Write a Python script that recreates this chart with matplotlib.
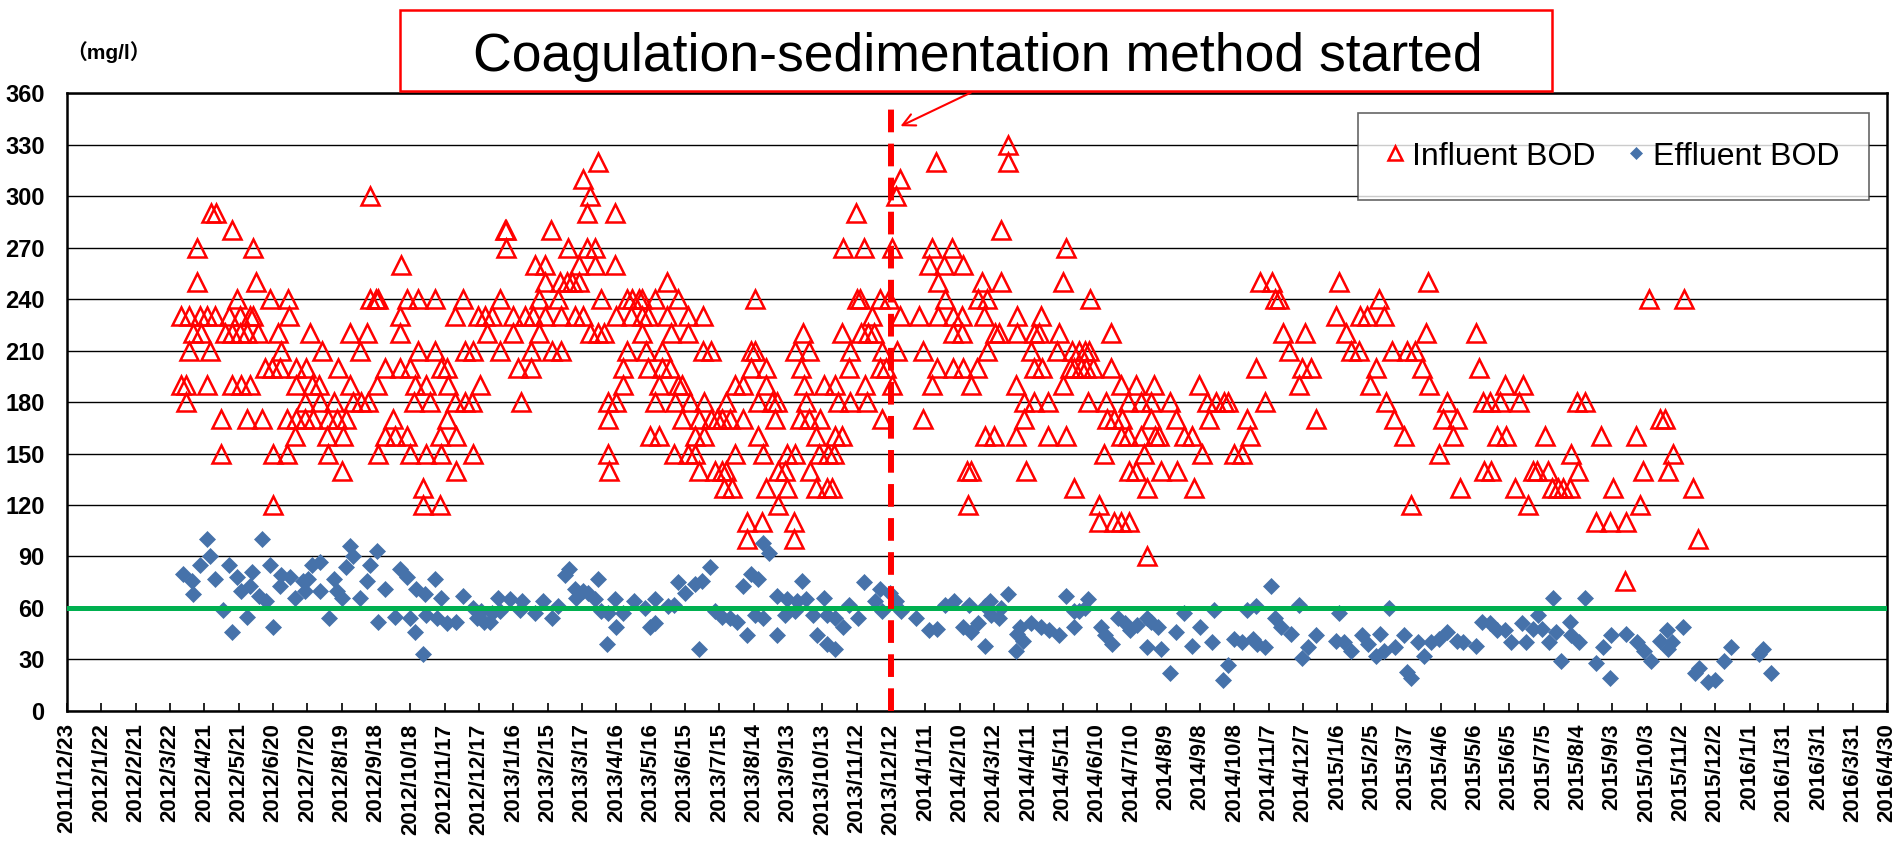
import numpy as np
import pandas as pd
import matplotlib
matplotlib.use('Agg')
import matplotlib.pyplot as plt
from matplotlib.patches import Rectangle

plt.rcParams['font.family'] = ['Liberation Sans', 'Noto Sans CJK JP', 'DejaVu Sans']

# axis range and the day the new method started
axis_start = pd.Timestamp('2011-12-23')
axis_end = pd.Timestamp('2016-04-30')
switch_date = pd.Timestamp('2013-12-12')
effluent_target = 60

# Influent BOD (mg/l), sample day = days after 2011/12/23 (one line per BOD level)
inf_day = [
    822,
    464, 759, 822,
    451, 728,
    265, 457, 724,
    126, 130, 454, 479, 689,
    144, 383, 384, 423, 816,
    114, 163, 384, 438, 454, 461, 678, 696, 721, 756, 773, 873,
    292, 409, 418, 447, 461, 479, 753, 766, 783,
    114, 165, 418, 431, 437, 441, 447, 524, 761, 799, 816, 870, 1042, 1053, 1111, 1189,
    149, 177, 193, 265, 270, 272, 297, 307, 322, 346, 378, 412, 429, 467, 489, 494, 500,
    502, 514, 534, 601, 690, 693, 710, 718, 767, 796, 804, 894, 1055, 1059, 1146, 1382, 1413,
    100, 107, 116, 122, 129, 142, 151, 160, 163, 194, 291, 339, 359, 365, 371, 390, 400, 407,
    418, 432, 444, 451, 480, 493, 502, 508, 524, 543, 556, 703, 728, 744, 761, 774, 782, 801,
    830, 851, 1109, 1130, 1136, 1151,
    110, 117, 138, 144, 151, 157, 167, 184, 212, 247, 262, 291, 367, 390, 412, 457, 464, 469,
    502, 528, 543, 643, 677, 694, 700, 705, 774, 782, 811, 814, 830, 845, 849, 867, 912, 1062,
    1082, 1117, 1187, 1231,
    107, 125, 187, 223, 256, 307, 322, 348, 355, 378, 405, 424, 432, 489, 506, 520, 556, 563,
    598, 601, 636, 648, 684, 712, 725, 748, 804, 842, 865, 878, 884, 889, 893, 1068, 1122, 1129,
    1158, 1171, 1178,
    173, 179, 186, 200, 209, 237, 278, 291, 300, 327, 332, 394, 405, 486, 508, 520, 527, 598,
    611, 641, 683, 710, 716, 760, 774, 783, 795, 845, 852, 876, 880, 886, 890, 896, 912, 1039,
    1079, 1087, 1144, 1184, 1234,
    100, 104, 122, 144, 152, 160, 200, 214, 220, 247, 271, 304, 314, 333, 361, 486, 517, 534,
    537, 584, 591, 611, 644, 661, 671, 697, 721, 756, 790, 829, 870, 921, 934, 950, 989, 1076,
    1138, 1190, 1256, 1272,
    104, 208, 221, 233, 250, 257, 263, 303, 317, 339, 348, 354, 397, 473, 480, 514, 531, 544,
    557, 576, 604, 616, 620, 646, 674, 684, 699, 836, 845, 857, 892, 908, 927, 938, 947, 964,
    996, 1004, 1011, 1014, 1047, 1152, 1206, 1237, 1243, 1252, 1269, 1319, 1326,
    135, 157, 170, 192, 200, 208, 215, 228, 236, 244, 285, 332, 473, 537, 552, 563, 568, 572,
    579, 591, 619, 640, 648, 658, 712, 748, 836, 909, 915, 922, 947, 969, 998, 1031, 1091, 1159,
    1202, 1214, 1392, 1396,
    199, 227, 241, 278, 287, 297, 326, 340, 509, 517, 549, 557, 604, 654, 671, 677, 802, 810,
    829, 857, 873, 921, 927, 938, 951, 954, 976, 983, 1034, 1168, 1211, 1249, 1257, 1291, 1340,
    1371,
    135, 180, 192, 228, 272, 300, 314, 327, 355, 473, 530, 543, 549, 584, 608, 629, 636, 657,
    665, 670, 906, 941, 992, 1020, 1027, 1199, 1314, 1403,
    240, 340, 474, 552, 566, 572, 576, 621, 627, 649, 786, 790, 838, 928, 934, 956, 970, 1238,
    1244, 1281, 1284, 1294, 1320, 1377, 1399,
    311, 574, 581, 611, 629, 654, 664, 668, 880, 944, 985, 1217, 1265, 1297, 1303, 1307, 1313,
    1351, 1421,
    180, 311, 326, 621, 787, 902, 1174, 1276, 1374,
    594, 607, 635, 902, 915, 921, 928, 1336, 1348, 1362,
    594, 635, 1425,
    944,
    1361,
]
inf_bod = [
    330,
    320, 320, 320,
    310, 310,
    300, 300, 300,
    290, 290, 290, 290, 290,
    280, 280, 280, 280, 280,
    270, 270, 270, 270, 270, 270, 270, 270, 270, 270, 270, 270,
    260, 260, 260, 260, 260, 260, 260, 260, 260,
    250, 250, 250, 250, 250, 250, 250, 250, 250, 250, 250, 250, 250, 250, 250, 250,
    240, 240, 240, 240, 240, 240, 240, 240, 240, 240, 240, 240, 240, 240, 240, 240, 240,
    240, 240, 240, 240, 240, 240, 240, 240, 240, 240, 240, 240, 240, 240, 240, 240, 240,
    230, 230, 230, 230, 230, 230, 230, 230, 230, 230, 230, 230, 230, 230, 230, 230, 230, 230,
    230, 230, 230, 230, 230, 230, 230, 230, 230, 230, 230, 230, 230, 230, 230, 230, 230, 230,
    230, 230, 230, 230, 230, 230,
    220, 220, 220, 220, 220, 220, 220, 220, 220, 220, 220, 220, 220, 220, 220, 220, 220, 220,
    220, 220, 220, 220, 220, 220, 220, 220, 220, 220, 220, 220, 220, 220, 220, 220, 220, 220,
    220, 220, 220, 220,
    210, 210, 210, 210, 210, 210, 210, 210, 210, 210, 210, 210, 210, 210, 210, 210, 210, 210,
    210, 210, 210, 210, 210, 210, 210, 210, 210, 210, 210, 210, 210, 210, 210, 210, 210, 210,
    210, 210, 210,
    200, 200, 200, 200, 200, 200, 200, 200, 200, 200, 200, 200, 200, 200, 200, 200, 200, 200,
    200, 200, 200, 200, 200, 200, 200, 200, 200, 200, 200, 200, 200, 200, 200, 200, 200, 200,
    200, 200, 200, 200, 200,
    190, 190, 190, 190, 190, 190, 190, 190, 190, 190, 190, 190, 190, 190, 190, 190, 190, 190,
    190, 190, 190, 190, 190, 190, 190, 190, 190, 190, 190, 190, 190, 190, 190, 190, 190, 190,
    190, 190, 190, 190,
    180, 180, 180, 180, 180, 180, 180, 180, 180, 180, 180, 180, 180, 180, 180, 180, 180, 180,
    180, 180, 180, 180, 180, 180, 180, 180, 180, 180, 180, 180, 180, 180, 180, 180, 180, 180,
    180, 180, 180, 180, 180, 180, 180, 180, 180, 180, 180, 180, 180,
    170, 170, 170, 170, 170, 170, 170, 170, 170, 170, 170, 170, 170, 170, 170, 170, 170, 170,
    170, 170, 170, 170, 170, 170, 170, 170, 170, 170, 170, 170, 170, 170, 170, 170, 170, 170,
    170, 170, 170, 170,
    160, 160, 160, 160, 160, 160, 160, 160, 160, 160, 160, 160, 160, 160, 160, 160, 160, 160,
    160, 160, 160, 160, 160, 160, 160, 160, 160, 160, 160, 160, 160, 160, 160, 160, 160,
    160,
    150, 150, 150, 150, 150, 150, 150, 150, 150, 150, 150, 150, 150, 150, 150, 150, 150, 150,
    150, 150, 150, 150, 150, 150, 150, 150, 150, 150,
    140, 140, 140, 140, 140, 140, 140, 140, 140, 140, 140, 140, 140, 140, 140, 140, 140, 140,
    140, 140, 140, 140, 140, 140, 140,
    130, 130, 130, 130, 130, 130, 130, 130, 130, 130, 130, 130, 130, 130, 130, 130, 130,
    130, 130,
    120, 120, 120, 120, 120, 120, 120, 120, 120,
    110, 110, 110, 110, 110, 110, 110, 110, 110, 110,
    100, 100, 100,
    90,
    76,
]

# Effluent BOD (mg/l), sample day = days after 2011/12/23
eff_day = [
    101, 109, 110, 116, 122, 125, 129, 136, 142, 144, 149, 152, 157, 160, 162, 168, 170, 174,
    177, 180, 186, 187, 195, 199, 206,
    208, 211, 214, 221, 221, 229, 233, 236, 240, 244, 247, 250, 256, 262, 265, 271, 272, 278,
    287, 291, 297, 300, 304, 305, 311, 313, 314, 322, 323, 327, 332, 340, 346, 355, 358, 362,
    364, 370, 371, 377, 378, 387, 396, 398, 409, 416,
    424, 429, 435, 439, 444, 445, 451, 455, 461, 464, 467, 472, 473, 479, 480, 486, 495, 505,
    509, 514, 514, 525, 530, 534, 540, 549, 552, 555, 562, 566, 572, 579, 585, 591, 594, 598,
    601, 604, 608, 608, 613,
    620, 620, 627, 629, 636, 638, 642, 646, 652, 655, 661, 664, 664, 671, 671, 678, 683, 691,
    696, 706, 710, 712, 719, 724, 729, 742, 753, 760, 767, 775, 783, 788, 790, 796, 802, 802,
    806, 807, 814, 816, 822, 829, 830, 833, 835, 842, 851, 858, 867, 873, 880, 880, 884, 889,
    892, 903, 907, 913, 918, 924, 929, 935, 944, 944, 947, 953, 956, 964, 969, 976, 983, 990,
    1000, 1002, 1010, 1014, 1020, 1027, 1031, 1036, 1039, 1040, 1047, 1052, 1055, 1061, 1069,
    1076, 1079, 1084, 1091, 1109, 1111, 1116, 1122, 1131, 1137, 1144, 1147, 1151, 1155, 1160,
    1168, 1171, 1174, 1180, 1186,
    1192, 1199, 1206, 1214, 1220, 1231, 1236, 1243, 1249, 1256, 1262, 1271, 1275, 1281, 1285,
    1289, 1295, 1298, 1301, 1305, 1313, 1314, 1321, 1326, 1336, 1342, 1348, 1349, 1362, 1372,
    1378, 1384, 1392, 1398, 1399, 1402, 1412, 1422, 1426, 1434, 1440, 1448, 1454, 1478, 1482,
    1489,
]
eff_bod = [
    80, 76, 68, 85, 100, 90, 77, 59, 85, 46, 78, 70, 55, 73, 81, 67, 100, 64,
    85, 49, 73, 79, 78, 66, 76,
    70, 77, 85, 87, 70, 54, 77, 70, 66, 84, 96, 90, 66, 76, 85, 93, 52, 71,
    55, 83, 78, 54, 46, 71, 33, 68, 56, 77, 54, 66, 51, 52, 67, 60, 54, 58,
    52, 52, 57, 66, 58, 65, 59, 64, 57, 64,
    54, 61, 79, 83, 71, 66, 70, 69, 65, 77, 58, 39, 57, 65, 49, 57, 64, 60,
    49, 65, 51, 61, 62, 75, 69, 74, 36, 76, 84, 58, 55, 54, 52, 73, 44, 80,
    56, 77, 98, 54, 92,
    67, 44, 56, 65, 58, 64, 76, 65, 56, 44, 66, 56, 39, 54, 36, 49, 62, 54,
    75, 64, 71, 58, 69, 64, 58, 54, 47, 48, 62, 64, 49, 62, 46, 51, 61, 38,
    64, 56, 54, 60, 68, 35, 45, 49, 41, 51, 49, 47, 44, 67, 49, 58, 58, 60,
    65, 49, 44, 39, 54, 51, 47, 50, 54, 37, 52, 49, 36, 22, 46, 57, 38, 49,
    40, 59, 18, 27, 42, 40, 59, 42, 61, 39, 37, 73, 54, 49, 45,
    62, 31, 37, 44, 41, 57, 40, 35, 44, 39, 32, 45, 35, 60, 37,
    44, 23, 19, 40, 32,
    40, 42, 46, 41, 40, 38, 52, 51, 47, 47, 40, 51, 40, 48, 56,
    48, 40, 66, 46, 29, 52, 44, 40, 66, 28, 37, 19, 44, 45, 40,
    35, 29, 41, 47, 36, 40, 49, 22, 25, 17, 18, 29, 37, 33, 36,
    22,
]

inf_dates = (axis_start + pd.to_timedelta(inf_day, unit='D')).to_pydatetime()
eff_dates = (axis_start + pd.to_timedelta(eff_day, unit='D')).to_pydatetime()

tick_dates = pd.date_range(axis_start, axis_end, freq='30D')
tick_labels = [f'{d.year}/{d.month}/{d.day}' for d in tick_dates]

fig = plt.figure(figsize=(19.01, 8.42), dpi=100)
ax = fig.add_axes([0.0352, 0.1556, 0.9574, 0.7339])

ax.plot(inf_dates, inf_bod, ls='none', marker='^', ms=13, mfc='none', mec='#FF0000',
        mew=1.8, label='Influent BOD', zorder=3)
ax.plot(eff_dates, eff_bod, ls='none', marker='D', ms=8.5, mfc='#4672AA', mec='#4672AA',
        mew=0.5, label='Effluent BOD', zorder=3)

# effluent target line and start of coagulation-sedimentation
ax.axhline(effluent_target, color='#00B050', lw=3.6, zorder=4)
ax.vlines(switch_date.to_pydatetime(), 0, 356, colors='#FF0000', lw=4.3,
          linestyles=(0, (3.8, 1.9)), zorder=5)

ax.set_xlim(axis_start.to_pydatetime(), axis_end.to_pydatetime())
ax.set_ylim(0, 360)
ax.set_yticks(range(0, 361, 30))
ax.set_yticklabels([str(v) for v in range(0, 361, 30)], fontweight='bold')
ax.set_xticks(tick_dates.to_pydatetime())
ax.set_xticklabels(tick_labels, rotation=90, fontweight='bold')
ax.tick_params(axis='y', length=0, pad=16, labelsize=17)
ax.tick_params(axis='x', direction='in', length=6, width=1.2, pad=9, labelsize=16)
ax.yaxis.grid(True, color='black', lw=1.0)
ax.set_axisbelow(True)
for sp in ax.spines.values():
    sp.set_linewidth(1.8)
    sp.set_color('black')

# unit label
fig.text(66 / 1901, 1 - 52 / 842, '（mg/l）', fontsize=15, fontweight='bold',
         ha='left', va='center')

# annotation box
fig.patches.append(Rectangle((400 / 1901, 1 - 91 / 842), 1152 / 1901, 81 / 842,
                             transform=fig.transFigure, fill=True, facecolor='white',
                             edgecolor='#FF0000', lw=1.8, zorder=10))
fig.text(978 / 1901, 1 - 71 / 842, 'Coagulation-sedimentation method started',
         fontsize=38.5, ha='center', va='baseline', zorder=11)
ax.annotate('', xy=(axis_start + pd.Timedelta(days=726), 340),
            xytext=(axis_start + pd.Timedelta(days=792), 361),
            arrowprops=dict(arrowstyle='->', color='#FF0000', lw=1.5, mutation_scale=22),
            annotation_clip=False, zorder=6)

leg = ax.legend(loc='upper right', bbox_to_anchor=(0.990, 0.968), ncol=2, fontsize=23,
                frameon=True, fancybox=False, borderpad=0.9, handlelength=0.5,
                handletextpad=0.3, columnspacing=1.0, borderaxespad=0, markerscale=0.75)
leg.get_frame().set_edgecolor('0.25')
leg.get_frame().set_linewidth(1.2)
leg.set_zorder(7)

plt.savefig('out.png', dpi=100)
